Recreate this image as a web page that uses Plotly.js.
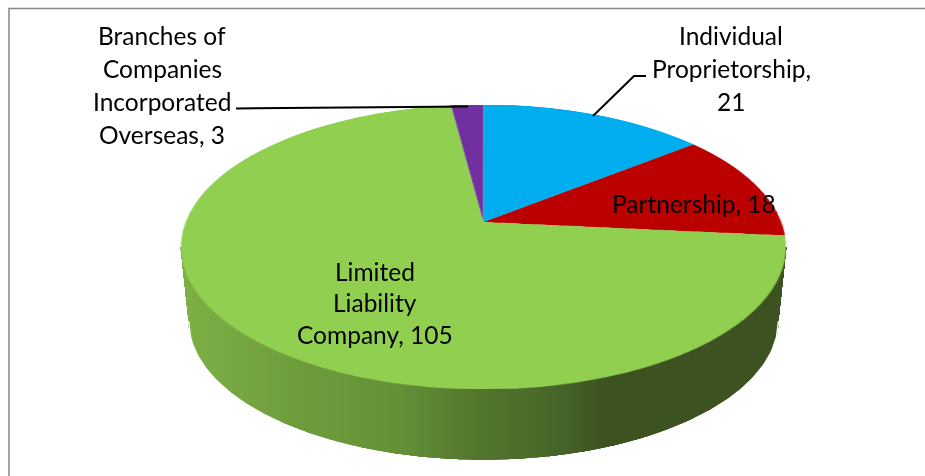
<!DOCTYPE html>
<html>
<head>
<meta charset="utf-8">
<script src="https://cdn.plot.ly/plotly-3.0.1.min.js"></script>
<style>
html,body{margin:0;padding:0;background:#fff;overflow:hidden}
#stage{position:relative;width:925px;height:476px;overflow:hidden}
.layer{position:absolute;left:0;top:0;width:925px;height:476px}
#pie{transform-origin:0 0}
</style>
</head>
<body>
<div id="stage">
  <div id="base" class="layer"></div>
  <div id="pie" class="layer"></div>
  <div id="over" class="layer"></div>
</div>
<script>
// ---- chart data ----
var categories = ['Individual Proprietorship','Partnership','Limited Liability Company','Branches of Companies Incorporated Overseas'];
var values = [21, 18, 105, 3];
var sliceColors = ['#00AEEF','#BB0000','#90CF50','#7030A0'];

// ---- data labels, one entry per printed line ----
var labelText = ['Branches of','Companies','Incorporated','Overseas, 3','Individual','Proprietorship,','21','Partnership, 18','Limited','Liability','Company, 105'];
var labelX = [162,162,162,162,731,731,731,694,375,375,375];
var labelY = [35,68,101,134,35,68,101,203,271,302,334];

// ---- leader lines ----
var leaderBranchesX = [236,468];
var leaderBranchesY = [108.5,106.5];
var leaderIndividualX = [593,634,646];
var leaderIndividualY = [116,76,76];

// ---- picture geometry of the tilted disc ----
var topCx = 483.5, topCy = 247, topA = 302.5, topB = 142.5, apexShift = 0.175;
var botA = 295, botCy = 320, botB = 140;

// ---- side wall shading ----
var shadeX = [181,300,400,470,560,605,786];
var shadeR = [126,110,100,84,70,60,60];
var shadeG = [176,156,145,120,100,82,82];
var shadeB = [70,60,55,46,40,33,33];

function shadeAt(x){
  for(var i=0;i<shadeX.length-1;i++){
    if(x<=shadeX[i+1]){
      var t=(x-shadeX[i])/(shadeX[i+1]-shadeX[i]);
      return 'rgb('+Math.round(shadeR[i]+t*(shadeR[i+1]-shadeR[i]))+','+Math.round(shadeG[i]+t*(shadeG[i+1]-shadeG[i]))+','+Math.round(shadeB[i]+t*(shadeB[i+1]-shadeB[i]))+')';
    }
  }
  return 'rgb(60,82,33)';
}
function wallBottom(x){
  var d=Math.abs(x-topCx);
  if(d<=botA){ return botCy+botB*Math.sqrt(1-d*d/(botA*botA)); }
  return botCy-(d-botA)/(topA-botA)*(botCy-250);
}

var pxAxisX = {range:[0,925],visible:false,fixedrange:true};
var pxAxisY = {range:[476,0],visible:false,fixedrange:true};
var cfg = {staticPlot:true,displayModeBar:false};

// side wall columns
var wx=[],wb=[],wh=[],wc=[];
for(var x=Math.ceil(topCx-topA);x<=Math.floor(topCx+topA);x++){
  wx.push(x);wb.push(topCy);wh.push(wallBottom(x)-topCy);wc.push(shadeAt(x));
}
var edgeX=[],edgeY=[];
for(var x2=topCx-botA;x2<=topCx+botA;x2+=2){edgeX.push(x2);edgeY.push(wallBottom(x2)+1);}

Plotly.newPlot('base',[
  {type:'bar',x:wx,y:wh,base:wb,width:1.2,marker:{color:wc,line:{width:0}},hoverinfo:'skip'},
  {type:'scatter',mode:'lines',x:edgeX,y:edgeY,line:{color:'#fff',width:1.5},hoverinfo:'skip'}
],{
  width:925,height:476,margin:{l:0,r:0,t:0,b:0},showlegend:false,
  paper_bgcolor:'#fff',plot_bgcolor:'rgba(0,0,0,0)',bargap:0,
  xaxis:pxAxisX,yaxis:pxAxisY,
  shapes:[{type:'path',xref:'x',yref:'y',path:'M 9 476 L 9 8.5 L 925 8.5',line:{color:'#868686',width:1.5}}]
},cfg);

// the pie itself, tilted into its perspective with a homography
Plotly.newPlot('pie',[{
  type:'pie',labels:categories,values:values,sort:false,direction:'clockwise',rotation:0,
  marker:{colors:sliceColors,line:{width:0}},textinfo:'none',hoverinfo:'none',
  domain:{x:[0,1],y:[0,1]}
}],{
  width:925,height:476,margin:{l:0,r:0,t:0,b:0},showlegend:false,
  paper_bgcolor:'rgba(0,0,0,0)'
},cfg).then(function(gd){
  var c0=gd.calcdata[0][0], R=c0.r, Cx=c0.cx, Cy=c0.cy;
  var c=apexShift, s=Math.sqrt(1-c*c);
  var d2=-c/R, d4=1+c*Cy/R;
  var a1=topA*s/R, a2=topCx*d2, a4=topCx*d4-topA*s*Cx/R;
  var b2=topCy*d2+topB/R, b4=topCy*d4-topB*(Cy/R+c);
  document.getElementById('pie').style.transform=
    'matrix3d('+[a1,0,0,0, a2,b2,0,d2, 0,0,1,0, a4,b4,0,d4].join(',')+')';
});

// labels and leader lines
var anns=labelText.map(function(t,i){
  return {x:labelX[i],y:labelY[i],xref:'x',yref:'y',text:t,showarrow:false,xanchor:'center',yanchor:'middle',
          font:{family:'Lato, Carlito, sans-serif',size:24.5,color:'#000'}};
});
Plotly.newPlot('over',[
  {type:'scatter',mode:'lines',x:leaderBranchesX,y:leaderBranchesY,line:{color:'#000',width:2},hoverinfo:'skip'},
  {type:'scatter',mode:'lines',x:leaderIndividualX,y:leaderIndividualY,line:{color:'#000',width:2},hoverinfo:'skip'}
],{
  width:925,height:476,margin:{l:0,r:0,t:0,b:0},showlegend:false,
  paper_bgcolor:'rgba(0,0,0,0)',plot_bgcolor:'rgba(0,0,0,0)',
  xaxis:pxAxisX,yaxis:pxAxisY,annotations:anns
},cfg);
</script>
</body>
</html>
